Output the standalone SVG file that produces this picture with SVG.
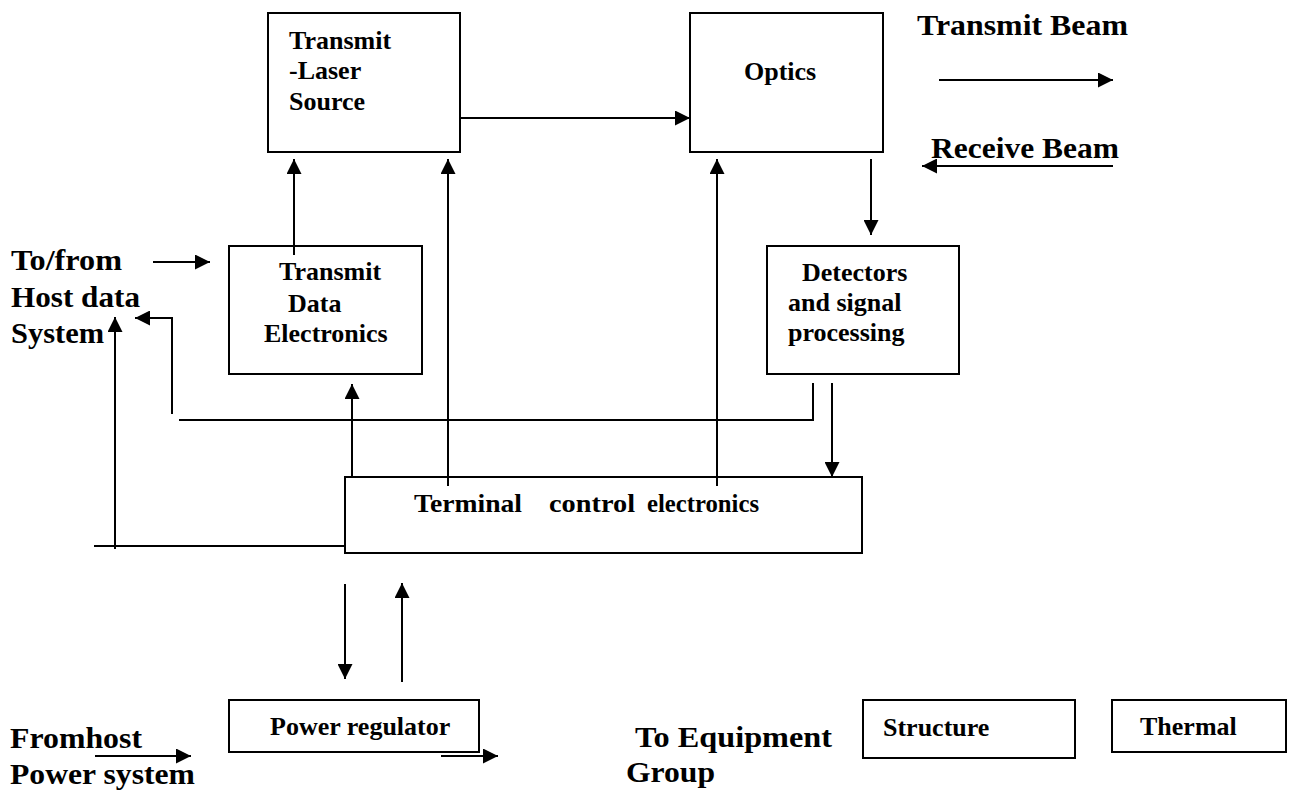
<svg xmlns="http://www.w3.org/2000/svg" width="1292" height="792" viewBox="0 0 1292 792">
<style>
.box{fill:#fff;stroke:#000;stroke-width:2}
.t{font-family:"Liberation Serif","Times New Roman",serif;font-weight:bold;font-size:26px;fill:#000}
.l{font-family:"Liberation Serif","Times New Roman",serif;font-weight:bold;font-size:29px;fill:#000}
.c{fill:none;stroke:#000;stroke-width:2}
</style>
<defs>
<marker id="ah" viewBox="0 0 15 15" refX="15" refY="7.5" markerWidth="15" markerHeight="15" markerUnits="userSpaceOnUse" orient="auto">
<path d="M0,0 L15,7.5 L0,15 z" fill="#000"/>
</marker>
</defs>
<rect width="1292" height="792" fill="#fff"/>

<g id="laser">
<rect class="box" x="268" y="13" width="192" height="139"/>
<text class="t" x="289" y="49">Transmit</text>
<text class="t" x="289" y="79">-Laser</text>
<text class="t" x="289" y="110">Source</text>
</g>
<g id="optics">
<rect class="box" x="690" y="13" width="193" height="139"/>
<text class="t" x="744" y="80">Optics</text>
</g>
<g id="tde">
<rect class="box" x="229" y="246" width="193" height="128"/>
<text class="t" x="279" y="280">Transmit</text>
<text class="t" x="288" y="312">Data</text>
<text class="t" x="264" y="342">Electronics</text>
</g>
<g id="detectors">
<rect class="box" x="767" y="246" width="192" height="128"/>
<text class="t" x="802" y="281">Detectors</text>
<text class="t" x="788" y="311">and signal</text>
<text class="t" x="788" y="341">processing</text>
</g>
<g id="terminal">
<rect class="box" x="345" y="477" width="517" height="76"/>
<text class="t" x="414" y="512" textLength="108" lengthAdjust="spacingAndGlyphs">Terminal</text>
<text class="t" x="549" y="512" textLength="86" lengthAdjust="spacingAndGlyphs">control</text>
<text class="t" x="647" y="512" textLength="112" lengthAdjust="spacingAndGlyphs">electronics</text>
</g>
<g id="power">
<rect class="box" x="229" y="700" width="250" height="52"/>
<text class="t" x="270" y="735">Power regulator</text>
</g>
<g id="structure">
<rect class="box" x="863" y="700" width="212" height="58"/>
<text class="t" x="883" y="736">Structure</text>
</g>
<g id="thermal">
<rect class="box" x="1112" y="700" width="174" height="52"/>
<text class="t" x="1140" y="735">Thermal</text>
</g>

<g id="labels">
<text class="l" x="917" y="35" textLength="211" lengthAdjust="spacingAndGlyphs">Transmit Beam</text>
<text class="l" x="931" y="158" textLength="188" lengthAdjust="spacingAndGlyphs">Receive Beam</text>
<text class="l" x="11" y="270" textLength="111" lengthAdjust="spacingAndGlyphs">To/from</text>
<text class="l" x="11" y="307" textLength="129" lengthAdjust="spacingAndGlyphs">Host data</text>
<text class="l" x="11" y="343" textLength="93" lengthAdjust="spacingAndGlyphs">System</text>
<text class="l" x="10" y="748" textLength="132" lengthAdjust="spacingAndGlyphs">Fromhost</text>
<text class="l" x="10" y="784" textLength="185" lengthAdjust="spacingAndGlyphs">Power system</text>
<text class="l" x="635" y="747" textLength="197" lengthAdjust="spacingAndGlyphs">To Equipment</text>
<text class="l" x="626" y="782" textLength="89" lengthAdjust="spacingAndGlyphs">Group</text>
</g>

<g id="connectors">
<path class="c" d="M460,118 H690" marker-end="url(#ah)"/>
<path class="c" d="M939,80 H1113" marker-end="url(#ah)"/>
<path class="c" d="M1113,166 H922" marker-end="url(#ah)"/>
<path class="c" d="M871,159 V235" marker-end="url(#ah)"/>
<path class="c" d="M153,262 H210" marker-end="url(#ah)"/>
<path class="c" d="M294,255 V159" marker-end="url(#ah)"/>
<path class="c" d="M448,486 V159" marker-end="url(#ah)"/>
<path class="c" d="M717,486 V159" marker-end="url(#ah)"/>
<path class="c" d="M352,478 V384" marker-end="url(#ah)"/>
<path class="c" d="M832,383 V477" marker-end="url(#ah)"/>
<path class="c" d="M813,383 V420 H179"/>
<path class="c" d="M172,414 V318 H135" marker-end="url(#ah)"/>
<path class="c" d="M345,546 H94"/>
<path class="c" d="M115,549 V317" marker-end="url(#ah)"/>
<path class="c" d="M345,584 V679" marker-end="url(#ah)"/>
<path class="c" d="M402,682 V583" marker-end="url(#ah)"/>
<path class="c" d="M95,756 H191" marker-end="url(#ah)"/>
<path class="c" d="M441,756 H498" marker-end="url(#ah)"/>
</g>
</svg>
